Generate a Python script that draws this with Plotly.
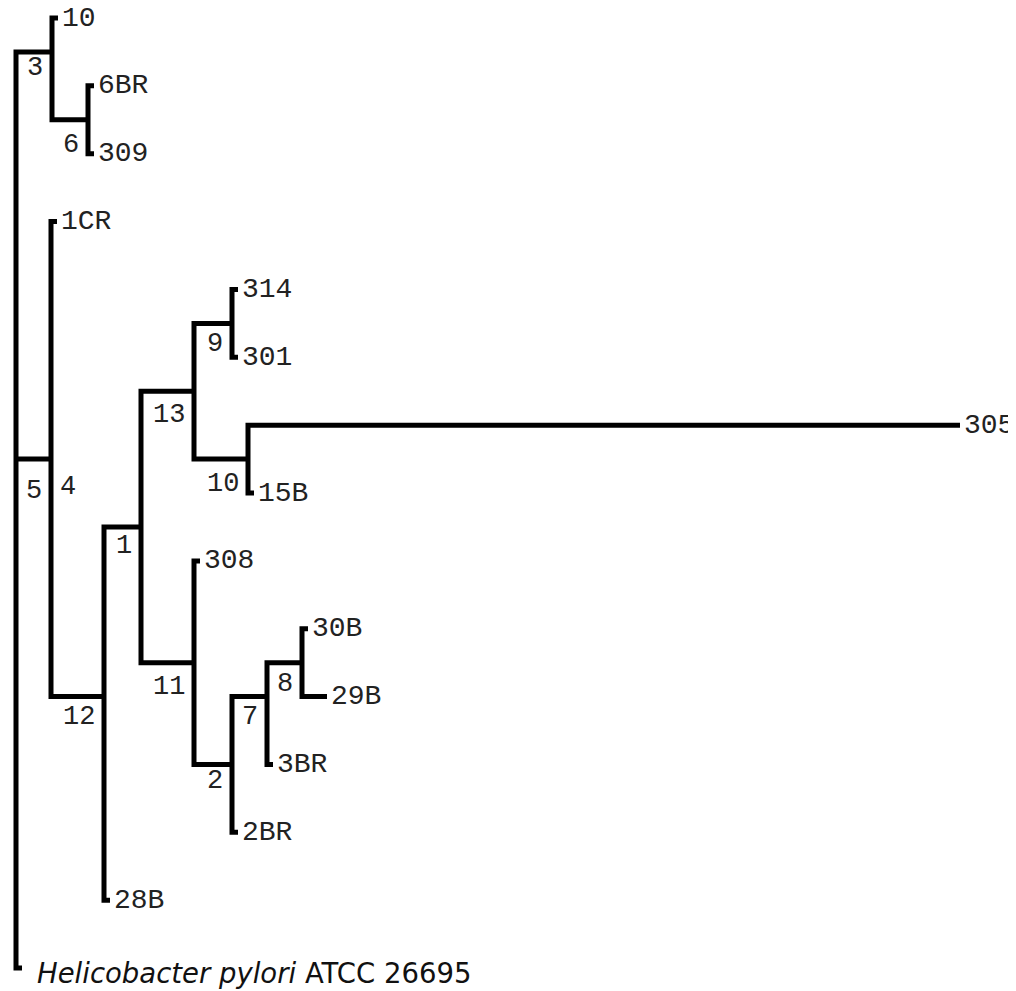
import plotly.graph_objects as go

# ---------------- data ----------------
# leaves (top to bottom order = row index)
leaf_names = ["10", "6BR", "309", "1CR", "314", "301", "305", "15B", "308",
              "30B", "29B", "3BR", "2BR", "28B", "Helicobacter pylori ATCC 26695"]
leaf_row = [0, 1, 2, 3, 4, 5, 6, 7, 8, 9, 10, 11, 12, 13, 14]
leaf_dist = [42, 78, 78, 41, 222, 222, 944, 238, 184, 292, 311, 257, 222, 94, 6]
leaf_parent = ["n3", "n6", "n6", "n4", "n9", "n9", "n10", "n10", "n11",
               "n8", "n8", "n7", "n2", "n12", "root"]

# internal nodes
node_ids = ["root", "n3", "n6", "n4", "n12", "n1", "n13", "n9", "n10", "n11", "n2", "n7", "n8"]
node_dist = [0, 36, 72, 35, 88, 125, 178, 216, 232, 178, 216, 251, 286]
node_row = [7.25, 0.5, 1.5, 6.5, 10.0, 7.5, 5.5, 4.5, 6.5, 9.5, 11.0, 10.0, 9.5]
node_parent = [None, "root", "n3", "root", "n4", "n12", "n1", "n13", "n13", "n1", "n11", "n2", "n7"]
node_label = ["", "3", "6", "5", "12", "1", "13", "9", "10", "11", "2", "7", "8"]
extra_label_node = ["n4"]
extra_label_text = ["4"]

# ---------------- build geometry from the tree ----------------
pos = {}
for n, d, r in zip(node_ids, node_dist, node_row):
    pos[n] = (d, r)
for n, d, r in zip(leaf_names, leaf_dist, leaf_row):
    pos[n] = (d, r)

children = {n: [] for n in node_ids}
for n, p in zip(node_ids, node_parent):
    if p is not None:
        children[p].append(n)
for n, p in zip(leaf_names, leaf_parent):
    children[p].append(n)

xs, ys = [], []
for n in node_ids:
    kids = sorted(children[n], key=lambda k: pos[k][1])
    nx = pos[n][0]
    first, last = kids[0], kids[-1]
    # bracket: first child tip -> node vertical -> last child tip
    xs += [pos[first][0], nx, nx, pos[last][0], None]
    ys += [pos[first][1], pos[first][1], pos[last][1], pos[last][1], None]
    for k in kids[1:-1]:
        xs += [nx, pos[k][0], None]
        ys += [pos[k][1], pos[k][1], None]

fig = go.Figure()
fig.add_trace(go.Scatter(x=xs, y=ys, mode="lines",
                         line=dict(color="black", width=5),
                         hoverinfo="skip", showlegend=False))

mono = "Courier New, Liberation Mono, monospace"
annotations = []
for name, d, r in zip(leaf_names, leaf_dist, leaf_row):
    if name.startswith("Helicobacter"):
        txt = "<i>Helicobacter pylori</i> ATCC 26695"
        fnt = dict(family="DejaVu Sans", size=27.5, color="#111")
        ys_, xs_ = -5, 13
    else:
        txt = name
        fnt = dict(family=mono, size=28, color="#222")
        ys_, xs_ = 0, 2
    annotations.append(dict(x=d, y=r, xref="x", yref="y", text=txt, showarrow=False,
                            xanchor="left", yanchor="middle", xshift=xs_, yshift=ys_, font=fnt))

label_dy = {"n3": 16, "n6": 25, "n4": 32, "n12": 20, "n1": 19, "n13": 24,
            "n9": 21, "n10": 25, "n11": 24, "n2": 17, "n7": 20, "n8": 21}
for n, lab in zip(node_ids, node_label):
    if not lab:
        continue
    d, r = pos[n]
    annotations.append(dict(x=d, y=r, xref="x", yref="y", text=lab, showarrow=False,
                            xanchor="right", yanchor="middle", xshift=-7,
                            yshift=-label_dy[n],
                            font=dict(family=mono, size=27, color="#222")))
for n, lab in zip(extra_label_node, extra_label_text):
    d, r = pos[n]
    annotations.append(dict(x=d, y=r, xref="x", yref="y", text=lab, showarrow=False,
                            xanchor="left", yanchor="middle", xshift=7, yshift=-28,
                            font=dict(family=mono, size=27, color="#222")))

fig.update_layout(
    width=1008, height=983,
    margin=dict(l=0, r=0, t=0, b=0),
    paper_bgcolor="white", plot_bgcolor="white",
    xaxis=dict(range=[-8, 1000], visible=False, fixedrange=True),
    yaxis=dict(range=[14.338, -0.1474], visible=False, fixedrange=True),
    annotations=annotations,
    showlegend=False,
)
fig.write_html("out.html")
